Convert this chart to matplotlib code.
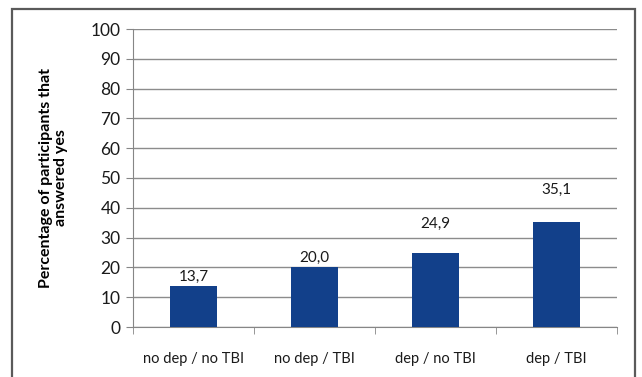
import numpy as np
import matplotlib.pyplot as plt
from matplotlib.patches import Rectangle

# Survey results
groups = ['no dep / no TBI', 'no dep / TBI', 'dep / no TBI', 'dep / TBI']
pct_yes = [13.7, 20.0, 24.9, 35.1]
label_offset = [2, 2, 16, 18.5]   # points above bar top

plt.rcParams['font.family'] = ['Lato', 'DejaVu Sans']

fig = plt.figure(figsize=(6.42, 3.77), dpi=100)
fig.patch.set_facecolor('white')

# outer chart frame
frame = Rectangle((12 / 642, -0.05), 623 / 642, 1.05 - 9 / 377,
                  transform=fig.transFigure, fill=False,
                  edgecolor='#5a5a5a', lw=1.6, zorder=0)
fig.patches.append(frame)

ax = fig.add_axes([133 / 642, 1 - 327 / 377, 484 / 642, 298 / 377])

x = np.arange(len(groups))
ax.bar(x, pct_yes, width=0.39, color='#12408a', zorder=3)

for xi, v, off in zip(x, pct_yes, label_offset):
    ax.annotate(f'{v:.1f}'.replace('.', ','), (xi, v), xytext=(0, off),
                textcoords='offset points', ha='center', va='bottom',
                fontsize=11, color='#1a1a1a')

ax.set_xlim(-0.5, len(groups) - 0.5)
ax.set_ylim(0, 100)
ax.set_yticks(range(0, 101, 10))
ax.yaxis.grid(True, color='#8c8c8c', lw=1)
ax.set_axisbelow(True)

# category labels centred, tick marks at category boundaries
ax.set_xticks(x)
ax.set_xticklabels(groups, fontsize=10.5, color='#1a1a1a')
ax.set_xticks(np.arange(-0.5, len(groups)), minor=True)
ax.tick_params(axis='x', which='major', length=0, pad=18)
ax.tick_params(axis='x', which='minor', length=5, color='#868686', direction='out')
ax.tick_params(axis='y', length=5, color='#868686', labelsize=12.5,
               labelcolor='#1a1a1a', pad=4)

for side in ['top', 'right']:
    ax.spines[side].set_visible(False)
ax.spines['left'].set_color('#868686')
ax.spines['bottom'].set_color('#868686')

ax.set_ylabel('Percentage of participants that\nanswered yes',
              fontsize=11.5, fontweight='bold', labelpad=16, linespacing=1.1)

fig.savefig('out.png', dpi=100)
